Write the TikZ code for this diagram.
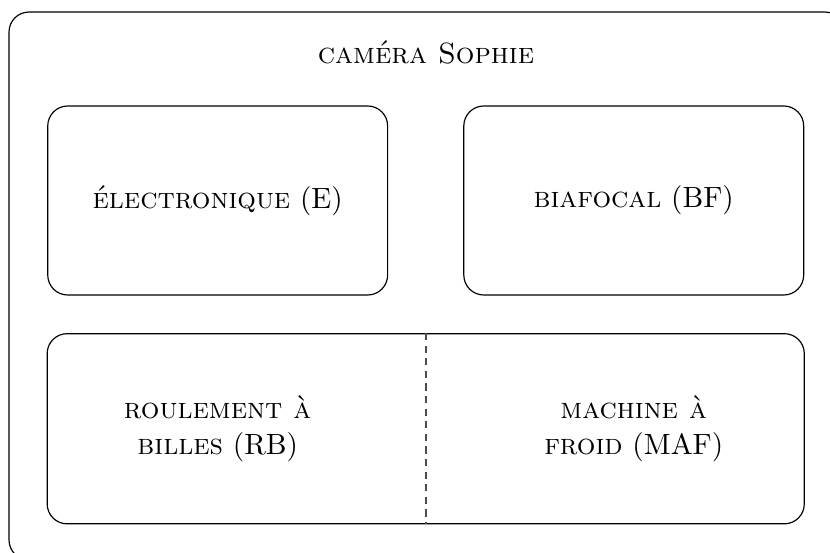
\documentclass[tikz,border=0pt]{standalone}
\usetikzlibrary{positioning,fit}
\tikzset
{
    outerbox/.style = {draw=black, rounded corners=6.8pt, minimum width=285.3pt, minimum height=187pt},
    partbox/.style  = {draw=black, rounded corners=6.8pt, align=center, minimum width=116pt, minimum height=64.5pt},
    parttext/.style = {align=center, minimum width=116pt, minimum height=64.5pt},
    splitbox/.style = {draw=black, rounded corners=6.8pt, inner sep=0pt},
    splitline/.style = {draw=black!70, semithick, dash pattern=on 2.4pt off 1.9pt}
}

\begin{document}
\begin{tikzpicture}
		[x=0.3413pt, y=-0.3413pt, node distance=25.6pt]
		\useasboundingbox (0,0) rectangle (830,553);
		\node[outerbox] (camera) at (427,286) {};
		\node (title) at (426,52) {\textsc{caméra Sophie}};
		\node[partbox] (E) at (217.7,200.5) {\textsc{électronique} (E)};
		\node[partbox, right=25.6pt of E] (BF) {\textsc{biafocal} (BF)};
		\node[parttext, below=13pt of E] (RB) {\textsc{roulement à}\\\textsc{billes} (RB)};
		\node[parttext, below=13pt of BF] (MAF) {\textsc{machine à}\\\textsc{froid} (MAF)};
		\node[splitbox, fit=(RB)(MAF)] (bottom) {};
		\draw[splitline] (bottom.north) -- (bottom.south);
		\end{tikzpicture}
\end{document}
